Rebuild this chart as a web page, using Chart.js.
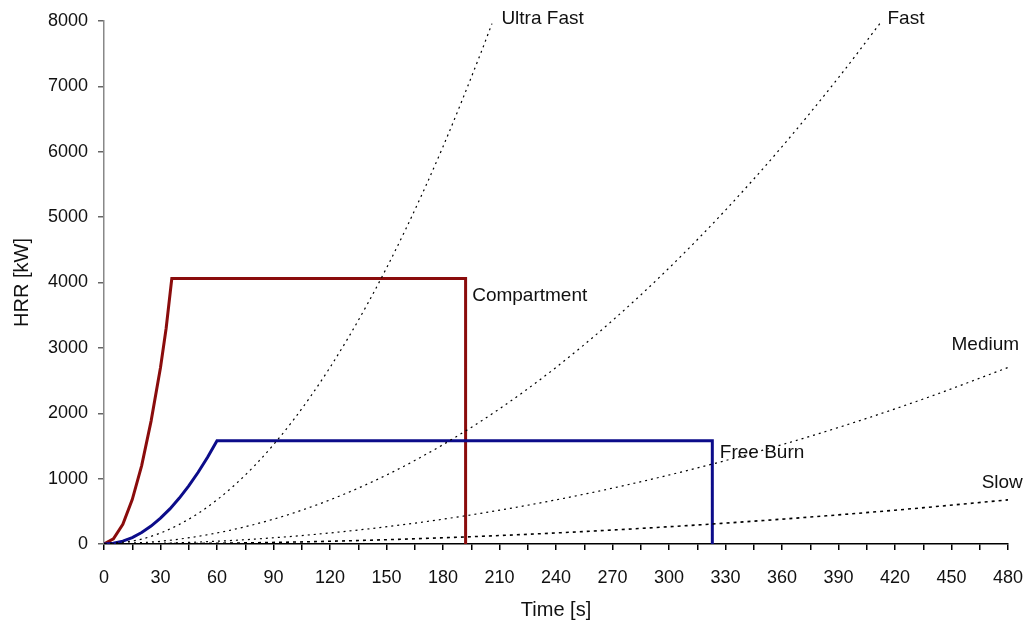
<!DOCTYPE html>
<html>
<head>
<meta charset="utf-8">
<script src="https://cdn.jsdelivr.net/npm/chart.js@4.4.1/dist/chart.umd.min.js"></script>
<style>
    html, body { margin: 0; padding: 0; background: #fff; }
    #wrap { width: 1029px; height: 628px; }
</style>
</head>
<body>
<div id="wrap"><canvas id="hrrChart" width="1029" height="628"></canvas></div>
<script>
// HRR 曲线数据
const compartmentTime = [0, 5, 10, 15, 20, 25, 30, 33, 36, 192, 192];
const compartmentHRR  = [0, 80, 300, 680, 1200, 1880, 2700, 3300, 4060, 4060, 0];

const freeBurnTime = [0, 5, 10, 15, 20, 25, 30, 35, 40, 45, 50, 55, 60, 323, 323];
const freeBurnHRR  = [0, 11, 44, 99, 176, 274, 395, 537, 702, 889, 1097, 1328, 1580, 1580, 0];

const ultraFastTime = [0, 20, 40, 60, 80, 100, 120, 140, 160, 180, 200, 206];
const ultraFastHRR  = [0, 75, 300, 675, 1200, 1876, 2701, 3677, 4803, 6078, 7504, 7960];

const fastTime = [0, 30, 60, 90, 120, 150, 180, 210, 240, 270, 300, 330, 360, 390, 413];
const fastHRR  = [0, 42, 169, 380, 675, 1055, 1520, 2068, 2701, 3419, 4221, 5107, 6078, 7134, 8000];

const mediumTime = [0, 40, 80, 120, 160, 200, 240, 280, 320, 360, 400, 440, 480];
const mediumHRR  = [0, 19, 75, 169, 300, 469, 675, 919, 1200, 1519, 1875, 2269, 2700];

const slowTime = [0, 60, 120, 180, 240, 300, 360, 420, 480];
const slowHRR  = [0, 11, 42, 95, 169, 264, 380, 517, 675];

// 曲线标注
const curveLabels = [
    { text: 'Ultra Fast', t: 211, hrr: 8030 },
    { text: 'Fast', t: 416, hrr: 8030 },
    { text: 'Compartment', t: 195.5, hrr: 3800 },
    { text: 'Free Burn', t: 327, hrr: 1390 },
    { text: 'Medium', t: 450, hrr: 3050 },
    { text: 'Slow', t: 466, hrr: 930 }
];

const FONT = "'Liberation Sans', Arial, sans-serif";

function toPoints(xs, ys) {
    return xs.map((x, i) => ({ x: x, y: ys[i] }));
}

function dotted(label, xs, ys, width, dash) {
    return {
        label: label,
        data: toPoints(xs, ys),
        borderColor: '#000',
        borderWidth: width,
        borderDash: dash,
        pointRadius: 0,
        fill: false,
        cubicInterpolationMode: 'monotone'
    };
}

// 在图上写曲线名称
const labelPlugin = {
    id: 'curveLabels',
    afterDatasetsDraw(chart) {
        const ctx = chart.ctx;
        const xs = chart.scales.x;
        const ys = chart.scales.y;
        ctx.save();
        ctx.font = '19px ' + FONT;
        ctx.fillStyle = '#111';
        ctx.textAlign = 'left';
        ctx.textBaseline = 'middle';
        curveLabels.forEach(l => {
            ctx.fillText(l.text, xs.getPixelForValue(l.t), ys.getPixelForValue(l.hrr));
        });
        ctx.restore();
    }
};

const ctx = document.getElementById('hrrChart').getContext('2d');
new Chart(ctx, {
    type: 'line',
    data: {
        datasets: [
            dotted('Ultra Fast', ultraFastTime, ultraFastHRR, 1.2, [2, 4]),
            dotted('Fast', fastTime, fastHRR, 1.2, [2, 4]),
            dotted('Medium', mediumTime, mediumHRR, 1.2, [2, 4]),
            dotted('Slow', slowTime, slowHRR, 1.6, [3, 4]),
            {
                label: 'Free Burn',
                data: toPoints(freeBurnTime, freeBurnHRR),
                borderColor: '#0c0c8a',
                borderWidth: 3,
                pointRadius: 0,
                fill: false,
                tension: 0
            },
            {
                label: 'Compartment',
                data: toPoints(compartmentTime, compartmentHRR),
                borderColor: '#8a0c0c',
                borderWidth: 3,
                pointRadius: 0,
                fill: false,
                tension: 0
            }
        ]
    },
    options: {
        responsive: false,
        animation: false,
        layout: { padding: { top: 21, right: 21, bottom: 0, left: 0 } },
        plugins: {
            legend: { display: false },
            tooltip: { enabled: false }
        },
        scales: {
            x: {
                type: 'linear',
                min: 0,
                max: 480,
                border: { display: true, color: '#000', width: 1.5 },
                grid: { drawOnChartArea: false, drawTicks: true, tickLength: 6, color: '#000', lineWidth: 1.5 },
                ticks: {
                    stepSize: 15,
                    autoSkip: false,
                    maxRotation: 0,
                    padding: 17,
                    color: '#111',
                    font: { family: FONT, size: 18 },
                    callback: v => (v % 30 === 0 ? String(v) : '')
                },
                title: {
                    display: true,
                    text: 'Time [s]',
                    color: '#111',
                    font: { family: FONT, size: 20 },
                    padding: { top: 0, bottom: 6 }
                },
                afterFit(scale) {
                    scale.height = 84;
                    scale.paddingLeft = 0;
                    scale.paddingRight = 0;
                }
            },
            y: {
                min: 0,
                max: 8000,
                border: { display: true, color: '#888', width: 1.5 },
                grid: { drawOnChartArea: false, drawTicks: true, tickLength: 6, color: '#666', lineWidth: 1.5 },
                ticks: {
                    stepSize: 1000,
                    padding: 10,
                    color: '#111',
                    font: { family: FONT, size: 18 },
                    callback: v => String(v)
                },
                title: {
                    display: true,
                    text: 'HRR [kW]',
                    color: '#111',
                    font: { family: FONT, size: 20 },
                    padding: { top: 10, bottom: 0 }
                },
                afterFit(scale) {
                    scale.width = 104;
                    scale.paddingTop = 0;
                    scale.paddingBottom = 0;
                }
            }
        }
    },
    plugins: [labelPlugin]
});
</script>
</body>
</html>
